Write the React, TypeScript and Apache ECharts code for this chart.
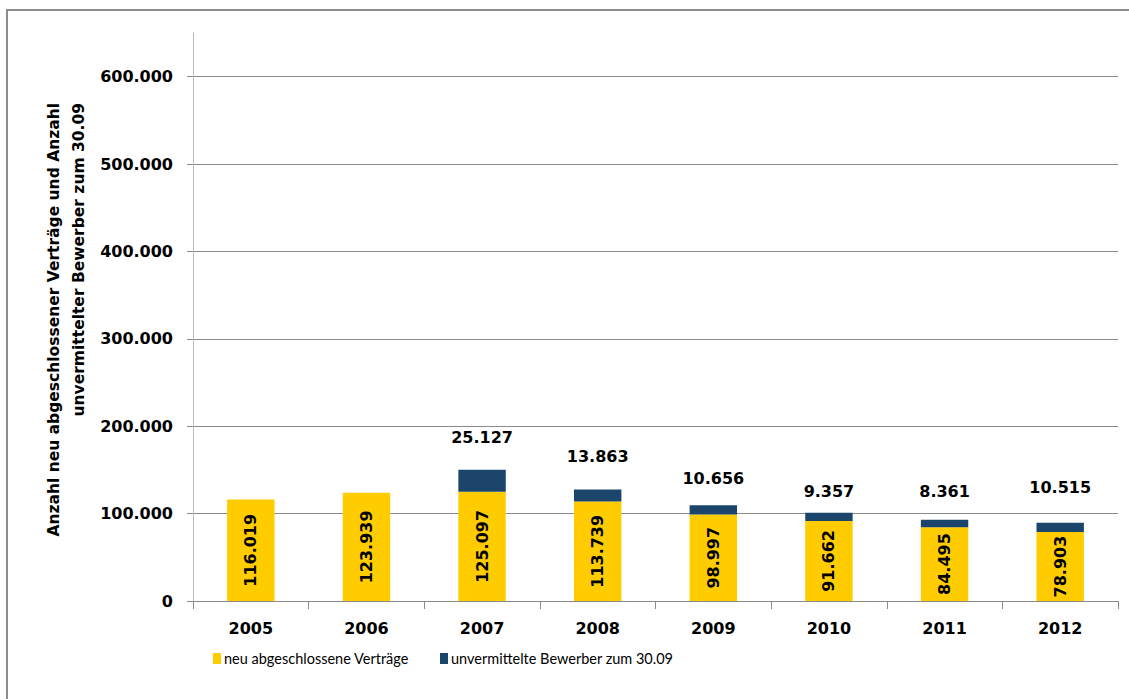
import React, { useEffect, useRef } from "react";
import * as echarts from "echarts";

// ---- data ----
const years = ["2005", "2006", "2007", "2008", "2009", "2010", "2011", "2012"];
const neueVertraege = [116019, 123939, 125097, 113739, 98997, 91662, 84495, 78903];
const unvermittelte: (number | null)[] = [null, null, 25127, 13863, 10656, 9357, 8361, 10515];
const yTicks = [0, 100000, 200000, 300000, 400000, 500000, 600000];
const seriesNames = ["neu abgeschlossene Verträge", "unvermittelte Bewerber zum 30.09"];
const yTitleLines = ["Anzahl neu abgeschlossener Verträge und Anzahl", "unvermittelter Bewerber zum 30.09"];

// ---- styling (label lift above stack top, px; legend item x positions) ----
const labelLift = [0, 0, 33, 34, 28, 22, 29, 36];
const legendLeft = [213, 440];

const fmt = (v: number) => String(Math.round(v)).replace(/\B(?=(\d{3})+(?!\d))/g, ".");

const NUM_FONT = "DejaVu Sans";
const YELLOW = "#FFCC00";
const BLUE = "#1C456B";

export default function App() {
  const ref = useRef<HTMLDivElement>(null);
  useEffect(() => {
    if (!ref.current) return;
    const chart = echarts.init(ref.current, undefined, { renderer: "svg" });
    chart.setOption({
      animation: false,
      backgroundColor: "#ffffff",
      grid: { left: 193, right: 11, top: 33, bottom: 98, containLabel: false },
      legend: seriesNames.map((name, i) => ({
        left: legendLeft[i],
        top: 651,
        padding: 0,
        itemWidth: 8,
        itemHeight: 11,
        icon: "rect",
        selectedMode: false,
        textStyle: { fontFamily: "Lato", fontSize: 14.5, color: "#000", padding: [0, 0, 0, -2] },
        data: [name],
      })),
      xAxis: {
        type: "category",
        data: years,
        axisLine: { show: true, lineStyle: { color: "#8a8a8a", width: 1 } },
        axisTick: { show: true, length: 8, lineStyle: { color: "#8a8a8a" } },
        axisLabel: {
          margin: 19,
          fontFamily: NUM_FONT,
          fontWeight: "bold",
          fontSize: 16,
          color: "#000",
        },
      },
      yAxis: {
        type: "value",
        min: 0,
        max: 650000,
        interval: 100000,
        axisLine: { show: true, lineStyle: { color: "#b8b8b8", width: 1 } },
        axisTick: { show: true, length: 6, lineStyle: { color: "#8a8a8a" }, customValues: yTicks },
        axisLabel: {
          customValues: yTicks,
          margin: 20,
          fontFamily: NUM_FONT,
          fontWeight: "bold",
          fontSize: 16,
          color: "#000",
          formatter: (v: number) => fmt(v),
        },
        splitLine: { show: true, lineStyle: { color: "#8a8a8a", width: 1 } },
      },
      graphic: [
        {
          type: "rect",
          silent: true,
          shape: { x: 7, y: 10, width: 1400, height: 900 },
          style: { fill: "none", stroke: "#8c8c8c", lineWidth: 2 },
        },
        {
          type: "text",
          silent: true,
          x: 66,
          y: 103,
          rotation: Math.PI / 2,
          style: {
            text: yTitleLines.join("\n"),
            textAlign: "right",
            textVerticalAlign: "middle",
            lineHeight: 25,
            fontFamily: NUM_FONT,
            fontWeight: "bold",
            fontSize: 15.5,
            fill: "#000",
          },
        },
      ],
      series: [
        {
          name: seriesNames[0],
          type: "bar",
          stack: "total",
          barWidth: "41%",
          itemStyle: { color: YELLOW },
          data: neueVertraege,
          label: {
            show: true,
            position: "inside",
            rotate: 90,
            fontFamily: NUM_FONT,
            fontWeight: "bold",
            fontSize: 16,
            color: "#000",
            formatter: (p: any) => fmt(p.value),
          },
        },
        {
          name: seriesNames[1],
          type: "bar",
          stack: "total",
          barWidth: "41%",
          itemStyle: { color: BLUE },
          data: unvermittelte.map((v, i) => ({
            value: v,
            label: { offset: [0, -(labelLift[i] - 9)] },
          })),
          label: {
            show: true,
            position: "top",
            distance: 0,
            fontFamily: NUM_FONT,
            fontWeight: "bold",
            fontSize: 16,
            color: "#000",
            formatter: (p: any) => (p.value == null ? "" : fmt(p.value)),
          },
        },
      ],
    });
    return () => chart.dispose();
  }, []);
  return (
    <div
      ref={ref}
      style={{ position: "fixed", left: 0, top: 0, width: 1129, height: 699 }}
    />
  );
}
